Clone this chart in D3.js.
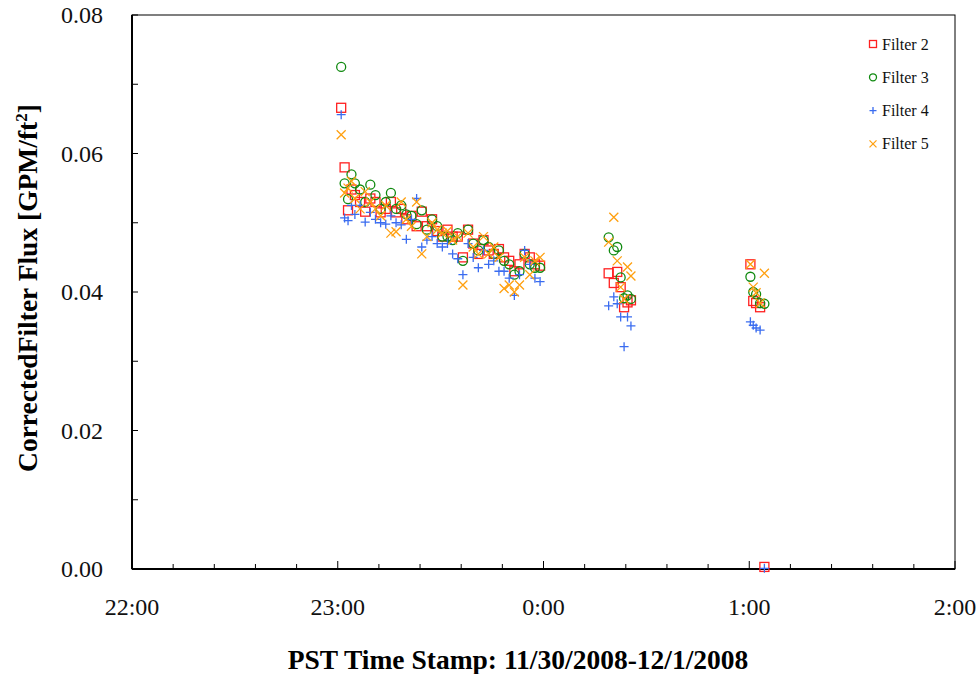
<!DOCTYPE html>
<html>
<head>
<meta charset="utf-8">
<script src="https://cdn.jsdelivr.net/npm/d3@7"></script>
<style>
  body { margin: 0; background: #fff; }
  svg { display: block; font-family: "Liberation Serif", "Times New Roman", serif; }
</style>
</head>
<body>
<svg id="chart" width="979" height="674"></svg>
<script>
// sample time stamps (HH:MM:SS), hours before noon belong to 12/1/2008
const times = [
  "23:01:00", "23:02:00", "23:03:00", "23:04:00", "23:05:00", "23:06:30", "23:08:00", "23:09:30",
  "23:11:00", "23:12:30", "23:14:00", "23:15:30", "23:17:00", "23:18:30", "23:20:00", "23:21:30",
  "23:23:00", "23:24:30", "23:26:00", "23:27:30", "23:29:00", "23:30:30", "23:32:00", "23:33:30",
  "23:35:00", "23:36:30", "23:38:00", "23:39:30", "23:41:00", "23:42:30", "23:44:00", "23:45:30",
  "23:47:00", "23:48:30", "23:50:00", "23:51:30", "23:53:00", "23:54:30", "23:56:00", "23:57:30",
  "23:59:00",
  "0:19:00", "0:20:30", "0:21:30", "0:22:30", "0:23:30", "0:24:30", "0:25:30",
  "1:00:20", "1:01:10", "1:02:00", "1:03:10", "1:04:25"
];

const filter2 = [
  0.0666, 0.0580, 0.0518, 0.0548, 0.0540, 0.0530, 0.0516, 0.0535,
  0.0530, 0.0515, 0.0520, 0.0530, 0.0515, 0.0520, 0.0505, 0.0510,
  0.0495, 0.0516, 0.0495, 0.0505, 0.0488, 0.0480, 0.0490, 0.0480,
  0.0480, 0.0450, 0.0490, 0.0470, 0.0455, 0.0475, 0.0460, 0.0455,
  0.0462, 0.0450, 0.0445, 0.0430, 0.0440, 0.0455, 0.0450, 0.0440,
  0.0438,
  0.0427, 0.0413, 0.0429, 0.0407, 0.0378, 0.0385, 0.0388,
  0.0440, 0.0387, 0.0384, 0.0378, 0.0003
];
const filter3 = [
  0.0725, 0.0557, 0.0534, 0.0570, 0.0557, 0.0548, 0.0530, 0.0555,
  0.0540, 0.0520, 0.0530, 0.0543, 0.0520, 0.0525, 0.0512, 0.0510,
  0.0498, 0.0518, 0.0490, 0.0505, 0.0495, 0.0480, 0.0480, 0.0475,
  0.0485, 0.0445, 0.0490, 0.0470, 0.0460, 0.0475, 0.0465, 0.0455,
  0.0460, 0.0445, 0.0440, 0.0425, 0.0430, 0.0455, 0.0440, 0.0435,
  0.0435,
  0.0479, 0.0460, 0.0465, 0.0421, 0.0391, 0.0395, 0.0390,
  0.0422, 0.0400, 0.0397, 0.0384, 0.0383
];
const filter4 = [
  0.0656, 0.0507, 0.0503, 0.0525, 0.0512, 0.0525, 0.0501, 0.0515,
  0.0505, 0.0500, 0.0498, 0.0510, 0.0500, 0.0497, 0.0476, 0.0505,
  0.0535, 0.0465, 0.0475, 0.0480, 0.0470, 0.0465, 0.0470, 0.0455,
  0.0448, 0.0425, 0.0470, 0.0450, 0.0435, 0.0460, 0.0440, 0.0445,
  0.0430, 0.0430, 0.0420, 0.0395, 0.0425, 0.0460, 0.0440, 0.0420,
  0.0415,
  0.0380, 0.0393, 0.0383, 0.0364, 0.0321, 0.0364, 0.0351,
  0.0357, 0.0352, 0.0348, 0.0345, 0.0001
];
const filter5 = [
  0.0627, 0.0543, 0.0550, 0.0560, 0.0535, 0.0520, 0.0545, 0.0530,
  0.0520, 0.0510, 0.0525, 0.0485, 0.0487, 0.0530, 0.0505, 0.0495,
  0.0530, 0.0455, 0.0480, 0.0500, 0.0490, 0.0485, 0.0488, 0.0475,
  0.0480, 0.0410, 0.0485, 0.0465, 0.0455, 0.0480, 0.0455, 0.0465,
  0.0450, 0.0405, 0.0410, 0.0400, 0.0410, 0.0450, 0.0425, 0.0445,
  0.0450,
  0.0472, 0.0508, 0.0445, 0.0407, 0.0390, 0.0436, 0.0423,
  0.0440, 0.0407, 0.0399, 0.0384, 0.0427
];

const seriesNames = ["Filter 2", "Filter 3", "Filter 4", "Filter 5"];
const seriesValues = [filter2, filter3, filter4, filter5];
const seriesColors = ["#ff2020", "#108a10", "#3a6cf0", "#ffa010"];
const seriesSymbols = ["square", "circle", "plus", "cross"];

const yTicks = [0, 0.02, 0.04, 0.06, 0.08];
const xStart = "2008-11-30 22:00";
const xEnd = "2008-12-01 02:00";

const parseFull = d3.timeParse("%Y-%m-%d %H:%M");
const parseT = d3.timeParse("%Y-%m-%d %H:%M:%S");
function toDate(t) {
  const h = +t.split(":")[0];
  return parseT((h < 12 ? "2008-12-01 " : "2008-11-30 ") + t);
}

const svg = d3.select("#chart");
const margin = { left: 132, right: 24, top: 15, bottom: 105 };
const W = 979, H = 674;
const innerW = W - margin.left - margin.right;
const innerH = H - margin.top - margin.bottom;

const x = d3.scaleTime().domain([parseFull(xStart), parseFull(xEnd)]).range([0, innerW]);
const y = d3.scaleLinear().domain([0, 0.08]).range([innerH, 0]);

const g = svg.append("g").attr("transform", `translate(${margin.left},${margin.top})`);

// frame
g.append("rect").attr("width", innerW).attr("height", innerH)
  .attr("fill", "none").attr("stroke", "#000").attr("stroke-width", 1);

// ticks (inside)
g.append("g").selectAll("line").data(x.ticks(d3.timeMinute.every(12)))
  .enter().append("line")
  .attr("x1", d => x(d)).attr("x2", d => x(d))
  .attr("y1", innerH).attr("y2", d => d.getMinutes() === 0 ? innerH - 8 : innerH - 5)
  .attr("stroke", "#000").attr("stroke-width", 1);
g.append("g").selectAll("line").data(d3.range(0, 0.0801, 0.01))
  .enter().append("line")
  .attr("x1", 0).attr("x2", 6)
  .attr("y1", d => y(d)).attr("y2", d => y(d))
  .attr("stroke", "#000").attr("stroke-width", 1);

// axes lines
g.append("line").attr("x1", 0).attr("x2", innerW).attr("y1", innerH).attr("y2", innerH)
  .attr("stroke", "#000").attr("stroke-width", 2);
g.append("line").attr("x1", 0).attr("x2", 0).attr("y1", 0).attr("y2", innerH)
  .attr("stroke", "#000").attr("stroke-width", 2);

// tick labels
const fmt = d3.timeFormat("%-H:%M");
g.append("g").selectAll("text").data(x.ticks(d3.timeHour.every(1)))
  .enter().append("text")
  .attr("x", d => x(d)).attr("y", innerH + 46)
  .attr("text-anchor", "middle").attr("font-size", 24).attr("fill", "#111")
  .text(d => fmt(d));
g.append("g").selectAll("text").data(yTicks)
  .enter().append("text")
  .attr("x", -29).attr("y", d => y(d) + 8)
  .attr("text-anchor", "end").attr("font-size", 24).attr("fill", "#111")
  .text(d => d.toFixed(2));

// axis titles
svg.append("text")
  .attr("x", 518).attr("y", 669)
  .attr("text-anchor", "middle").attr("font-size", 27.5).attr("font-weight", "bold")
  .text("PST Time Stamp: 11/30/2008-12/1/2008");
const yt = svg.append("text")
  .attr("transform", "translate(37,288) rotate(-90)")
  .attr("text-anchor", "middle").attr("font-size", 27.5).attr("font-weight", "bold");
yt.append("tspan").text("CorrectedFilter Flux [GPM/ft");
yt.append("tspan").attr("font-size", 17).attr("dy", -10).text("2");
yt.append("tspan").attr("dy", 10).text("]");

// marker drawing
function drawMarker(sel, sym, color, s) {
  const h = s / 2;
  if (sym === "square") {
    sel.append("rect").attr("x", -h).attr("y", -h).attr("width", s).attr("height", s)
      .attr("fill", "none").attr("stroke", color).attr("stroke-width", 1.3);
  } else if (sym === "circle") {
    sel.append("circle").attr("r", h).attr("fill", "none")
      .attr("stroke", color).attr("stroke-width", 1.3);
  } else if (sym === "plus") {
    sel.append("path").attr("d", `M${-h},0H${h}M0,${-h}V${h}`)
      .attr("stroke", color).attr("stroke-width", 1.3);
  } else {
    sel.append("path").attr("d", `M${-h},${-h}L${h},${h}M${-h},${h}L${h},${-h}`)
      .attr("stroke", color).attr("stroke-width", 1.3);
  }
}

const dates = times.map(toDate);
seriesValues.forEach((vals, i) => {
  const pts = g.append("g").selectAll("g").data(vals)
    .enter().append("g")
    .attr("transform", (d, j) => `translate(${x(dates[j])},${y(d)})`);
  pts.each(function() { drawMarker(d3.select(this), seriesSymbols[i], seriesColors[i], 9); });
});

// legend
const leg = svg.append("g").attr("transform", "translate(873,44)");
seriesNames.forEach((name, i) => {
  const row = leg.append("g").attr("transform", `translate(0,${i * 33.3})`);
  drawMarker(row, seriesSymbols[i], seriesColors[i], 7);
  row.append("text").attr("x", 9).attr("y", 5.5).attr("font-size", 16).attr("fill", "#111").text(name);
});
</script>
</body>
</html>
